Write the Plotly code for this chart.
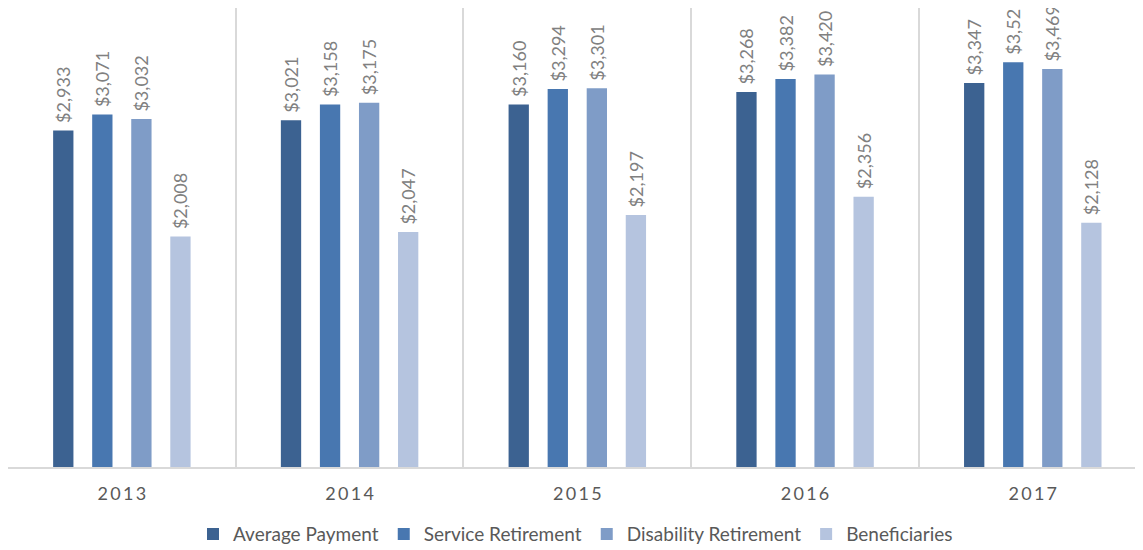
import plotly.graph_objects as go

years = ["2013", "2014", "2015", "2016", "2017"]
tick_labels = ["\u2009".join(list(y)) for y in years]
series_names = ["Average Payment", "Service Retirement", "Disability Retirement", "Beneficiaries"]
average_payment = [2933, 3021, 3160, 3268, 3347]
service_retirement = [3071, 3158, 3294, 3382, 3527]
disability_retirement = [3032, 3175, 3301, 3420, 3469]
beneficiaries = [2008, 2047, 2197, 2356, 2128]
colors = ["#3c6291", "#4877b0", "#7f9cc7", "#b5c4df"]

values = [average_payment, service_retirement, disability_retirement, beneficiaries]

FONT = "Lato"

fig = go.Figure()
for name, vals, col in zip(series_names, values, colors):
    fig.add_trace(go.Bar(
        x=years, y=vals, name=name,
        marker=dict(color=col, line=dict(width=0)),
        text=[f"\u2005${v:,}" for v in vals],
        textposition="outside",
        textangle=-90,
        textfont=dict(family=FONT, size=18, color="#808080"),
        constraintext="none",
        cliponaxis=False,
    ))

fig.update_layout(
    width=1143, height=550,
    margin=dict(l=0, r=8, t=0, b=91, autoexpand=False),
    barmode="group",
    bargap=0.314,
    bargroupgap=0.48,
    plot_bgcolor="white",
    paper_bgcolor="white",
    font=dict(family=FONT, color="#595959"),
    legend=dict(
        orientation="h", x=0.5, xanchor="center", y=-0.105, yanchor="top",
        font=dict(family=FONT, size=19, color="#595959"),
        itemwidth=30, traceorder="normal",
    ),
    xaxis=dict(
        type="category",
        range=[-0.5, 4.484],
        tickmode="array", tickvals=years, ticktext=tick_labels,
        tickson="boundaries",
        ticks="", showgrid=True, gridcolor="#d9d9d9", gridwidth=1.5,
        showline=True, linecolor="#d9d9d9", linewidth=1.5,
        tickfont=dict(family=FONT, size=18, color="#595959"),
        ticklabelstandoff=10,
    ),
    yaxis=dict(
        range=[0, 4000], showgrid=False, zeroline=False,
        showticklabels=False, ticks="",
        showline=True, linecolor="#d9d9d9", linewidth=1.5,
    ),
)

fig.write_html("out.html")
